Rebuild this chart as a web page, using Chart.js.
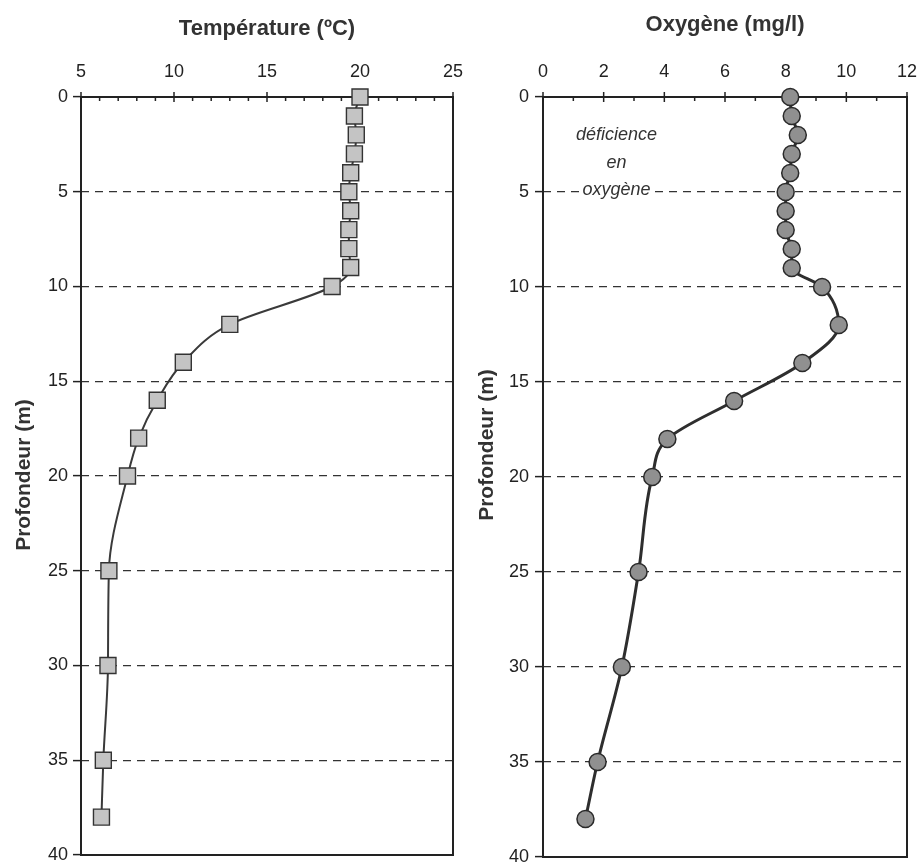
<!DOCTYPE html>
<html>
<head>
<meta charset="utf-8">
<title>Profils température / oxygène</title>
<script src="https://cdn.jsdelivr.net/npm/chart.js@4/dist/chart.umd.min.js"></script>
<style>
  html, body { margin: 0; padding: 0; background: #fff; }
  #wrap { position: relative; width: 919px; height: 862px; overflow: hidden; }
  canvas { position: absolute; top: 0; }
  #temp-chart { left: 0; }
  #oxy-chart { left: 460px; }
</style>
</head>
<body>
<div id="wrap">
  <canvas id="temp-chart" width="480" height="862"></canvas>
  <canvas id="oxy-chart" width="459" height="862"></canvas>
</div>
<script>
// profondeurs de mesure (m)
const depths = [0, 1, 2, 3, 4, 5, 6, 7, 8, 9, 10, 12, 14, 16, 18, 20, 25, 30, 35, 38];
// température (°C) et oxygène dissous (mg/l)
const temperature = [20.0, 19.7, 19.8, 19.7, 19.5, 19.4, 19.5, 19.4, 19.4, 19.5, 18.5, 13.0, 10.5, 9.1, 8.1, 7.5, 6.5, 6.45, 6.2, 6.1];
const oxygen = [8.15, 8.2, 8.4, 8.2, 8.15, 8.0, 8.0, 8.0, 8.2, 8.2, 9.2, 9.75, 8.55, 6.3, 4.1, 3.6, 3.15, 2.6, 1.8, 1.4];

const depthTicks = [0, 5, 10, 15, 20, 25, 30, 35, 40];
const tempTicks = [5, 10, 15, 20, 25];
const oxyTicks = [0, 2, 4, 6, 8, 10, 12];

const deficitText = ["déficience", "en", "oxygène"];
const deficitDepth = [2.0, 3.45, 4.9];
const deficitOxy = 2.42;

const INK = "#222";
const FAMILY = "'Liberation Sans', Arial, sans-serif";
const tickFont = { family: FAMILY, size: 18 };
const titleFont = { family: FAMILY, size: 22, weight: "bold" };

// cadre + graduations de l'axe du haut + titre vertical
const framePlugin = {
  id: "frame",
  beforeDatasetsDraw(chart, args, opts) {
    const { ctx, chartArea: a, scales: { x } } = chart;
    ctx.save();
    ctx.strokeStyle = INK;
    ctx.lineWidth = 2;
    ctx.strokeRect(a.left, a.top, a.right - a.left, a.bottom - a.top);
    ctx.lineWidth = 1.5;
    for (let v = x.min; v <= x.max + 1e-9; v += opts.minor) {
      const px = x.getPixelForValue(v);
      const major = Math.abs(v / opts.major - Math.round(v / opts.major)) < 1e-6;
      ctx.beginPath();
      ctx.moveTo(px, major ? a.top - 5 : a.top);
      ctx.lineTo(px, a.top + (major ? 5 : 4));
      ctx.stroke();
    }
    // titre de l'axe vertical
    ctx.translate(opts.titleX, opts.titleY);
    ctx.rotate(-Math.PI / 2);
    ctx.font = "bold 21px " + FAMILY;
    ctx.fillStyle = "#333";
    ctx.textAlign = "center";
    ctx.textBaseline = "middle";
    ctx.fillText("Profondeur (m)", 0, 0);
    ctx.restore();
  },
};

const deficitPlugin = {
  id: "deficit",
  beforeDatasetsDraw(chart) {
    const { ctx, scales: { x, y } } = chart;
    ctx.save();
    ctx.font = "italic 18px " + FAMILY;
    ctx.textAlign = "center";
    ctx.textBaseline = "middle";
    deficitText.forEach((t, i) => {
      const px = x.getPixelForValue(deficitOxy);
      const py = y.getPixelForValue(deficitDepth[i]);
      const w = ctx.measureText(t).width;
      ctx.fillStyle = "#fff";
      ctx.fillRect(px - w / 2 - 3, py - 9, w + 6, 18);
      ctx.fillStyle = "#333";
      ctx.fillText(t, px, py);
    });
    ctx.restore();
  },
};

function depthScale(yWidth, pad) {
  return {
    type: "linear",
    reverse: true,
    min: 0,
    max: 40,
    afterBuildTicks: (s) => { s.ticks = depthTicks.map((v) => ({ value: v })); },
    afterFit: (s) => { s.width = yWidth; s.paddingTop = 0; s.paddingBottom = 0; },
    ticks: { font: tickFont, color: INK, padding: pad },
    grid: {
      color: (c) => (c.tick && (c.tick.value === 0 || c.tick.value === 40) ? "transparent" : "#333"),
      lineWidth: 1.2,
      tickColor: INK,
      tickWidth: 1.5,
      tickLength: 8,
      tickBorderDash: [],
    },
    border: { display: false, dash: [8, 6] },
  };
}

function valueScale(min, max, ticks, title, titlePad) {
  return {
    type: "linear",
    position: "top",
    min,
    max,
    afterBuildTicks: (s) => { s.ticks = ticks.map((v) => ({ value: v })); },
    afterFit: (s) => { s.height = 97; s.paddingLeft = 0; s.paddingRight = 0; },
    ticks: { font: tickFont, color: INK, padding: 14 },
    grid: { display: false, drawTicks: false },
    border: { display: false },
    title: { display: true, text: title, font: titleFont, color: "#333", padding: { top: titlePad, bottom: 0 } },
  };
}

function makeProfile(canvasId, values, ds, scales, padding, plugins, frameOpts) {
  return new Chart(document.getElementById(canvasId), {
    type: "scatter",
    data: {
      datasets: [Object.assign({
        data: values.map((v, i) => ({ x: v, y: depths[i] })),
        showLine: true,
        cubicInterpolationMode: "monotone",
        clip: false,
      }, ds)],
    },
    options: {
      indexAxis: "y",
      responsive: false,
      animation: false,
      devicePixelRatio: 1,
      layout: { padding, autoPadding: false },
      scales,
      plugins: {
        legend: { display: false },
        tooltip: { enabled: false },
        frame: frameOpts,
      },
    },
    plugins,
  });
}

makeProfile(
  "temp-chart",
  temperature,
  {
    borderColor: "#3a3a3a",
    borderWidth: 2,
    pointStyle: "rect",
    pointRadius: 11.3,
    pointBackgroundColor: "#c4c4c4",
    pointBorderColor: "#333",
    pointBorderWidth: 1.4,
  },
  { x: valueScale(5, 25, tempTicks, "Température (ºC)", 16), y: depthScale(81, 5) },
  { left: 0, right: 27, top: 0, bottom: 7 },
  [framePlugin],
  { minor: 1, major: 5, titleX: 24, titleY: 475 }
);

makeProfile(
  "oxy-chart",
  oxygen,
  {
    borderColor: "#2e2e2e",
    borderWidth: 3,
    pointStyle: "circle",
    pointRadius: 8.5,
    pointBackgroundColor: "#909090",
    pointBorderColor: "#2a2a2a",
    pointBorderWidth: 1.5,
  },
  { x: valueScale(0, 12, oxyTicks, "Oxygène (mg/l)", 12), y: depthScale(83, 6) },
  { left: 0, right: 12, top: 0, bottom: 5 },
  [framePlugin, deficitPlugin],
  { minor: 1, major: 2, titleX: 27, titleY: 445 }
);
</script>
</body>
</html>
